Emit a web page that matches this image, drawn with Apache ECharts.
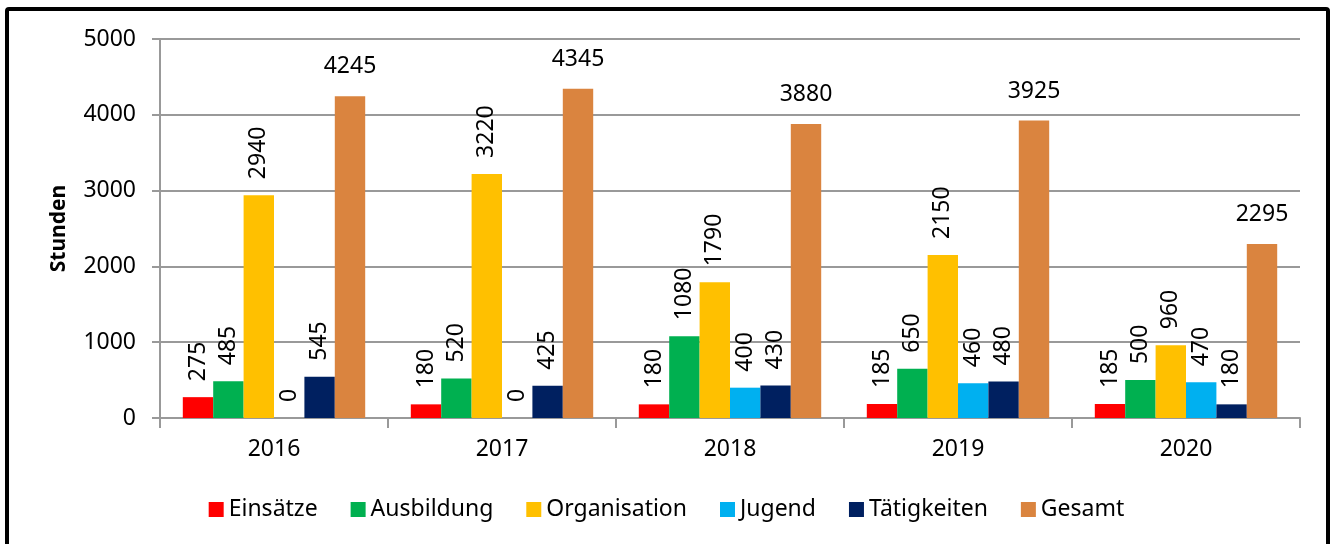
<!DOCTYPE html>
<html>
<head>
<meta charset="utf-8">
<script src="https://cdn.jsdelivr.net/npm/echarts@6/dist/echarts.min.js"></script>
<style>
html,body{margin:0;padding:0;background:#fff;overflow:hidden;}
#frame{position:absolute;left:5px;top:7px;width:1317px;height:560px;border:4px solid #000;border-radius:4px;box-sizing:content-box;}
#chart{position:absolute;left:0;top:0;width:1333px;height:544px;}
</style>
</head>
<body>
<div id="frame"></div>
<div id="chart"></div>
<script>
const categories = ['2016','2017','2018','2019','2020'];
const einsaetze = [275, 180, 180, 185, 185];
const ausbildung = [485, 520, 1080, 650, 500];
const organisation = [2940, 3220, 1790, 2150, 960];
const jugend = [0, 0, 400, 460, 470];
const taetigkeiten = [545, 425, 430, 480, 180];
const gesamt = [4245, 4345, 3880, 3925, 2295];
const seriesNames = ['Einsätze','Ausbildung','Organisation','Jugend','Tätigkeiten','Gesamt'];
const colors = ['#FF0000','#00B050','#FFC000','#00B0F0','#002060','#DA843F'];
const yTicks = {min:0, max:5000, interval:1000};

const FONT = 'Noto Sans';
const FS = 23;
const chart = echarts.init(document.getElementById('chart'), null, {renderer:'canvas'});
const rotLabel = {show:true, position:'top', rotate:90, align:'left', verticalAlign:'middle', distance:16, color:'#000', fontFamily:FONT, fontSize:FS};
const horLabel = {show:true, position:'top', distance:18, color:'#000', fontFamily:FONT, fontSize:FS};
const datasets = [einsaetze, ausbildung, organisation, jugend, taetigkeiten, gesamt];
const series = datasets.map((d,i)=>({
  name: seriesNames[i], type:'bar', data:d, barGap:'0%', barCategoryGap:'20%',
  itemStyle:{color:colors[i]},
  label: i===5 ? horLabel : rotLabel
}));
chart.setOption({
  animation:false,
  textStyle:{fontFamily:FONT},
  grid:{left:160, right:33, top:39, bottom:126, containLabel:false},
  legend:{
    bottom:18, left:'center', itemWidth:15, itemHeight:15, itemGap:33,
    icon:'rect',
    textStyle:{fontFamily:FONT, fontSize:FS, color:'#000', padding:[0,0,0,0]},
    data:seriesNames
  },
  xAxis:{
    type:'category', data:categories, boundaryGap:true,
    axisLine:{lineStyle:{color:'#999', width:2}},
    axisTick:{show:true, length:10, inside:false, lineStyle:{color:'#999', width:2}},
    axisLabel:{color:'#000', fontFamily:FONT, fontSize:FS, margin:20}
  },
  yAxis:{
    type:'value', min:yTicks.min, max:yTicks.max, interval:yTicks.interval,
    name:'Stunden', nameLocation:'middle', nameGap:90, nameRotate:90,
    nameTextStyle:{fontFamily:FONT, fontSize:21, fontWeight:'bold', color:'#000'},
    axisLine:{show:true, lineStyle:{color:'#999', width:2}},
    axisTick:{show:true, length:8, lineStyle:{color:'#999', width:2}},
    splitLine:{lineStyle:{color:'#999', width:2}},
    axisLabel:{color:'#000', fontFamily:FONT, fontSize:FS, margin:24, formatter:v=>String(v)}
  },
  series: series
});
</script>
</body>
</html>
